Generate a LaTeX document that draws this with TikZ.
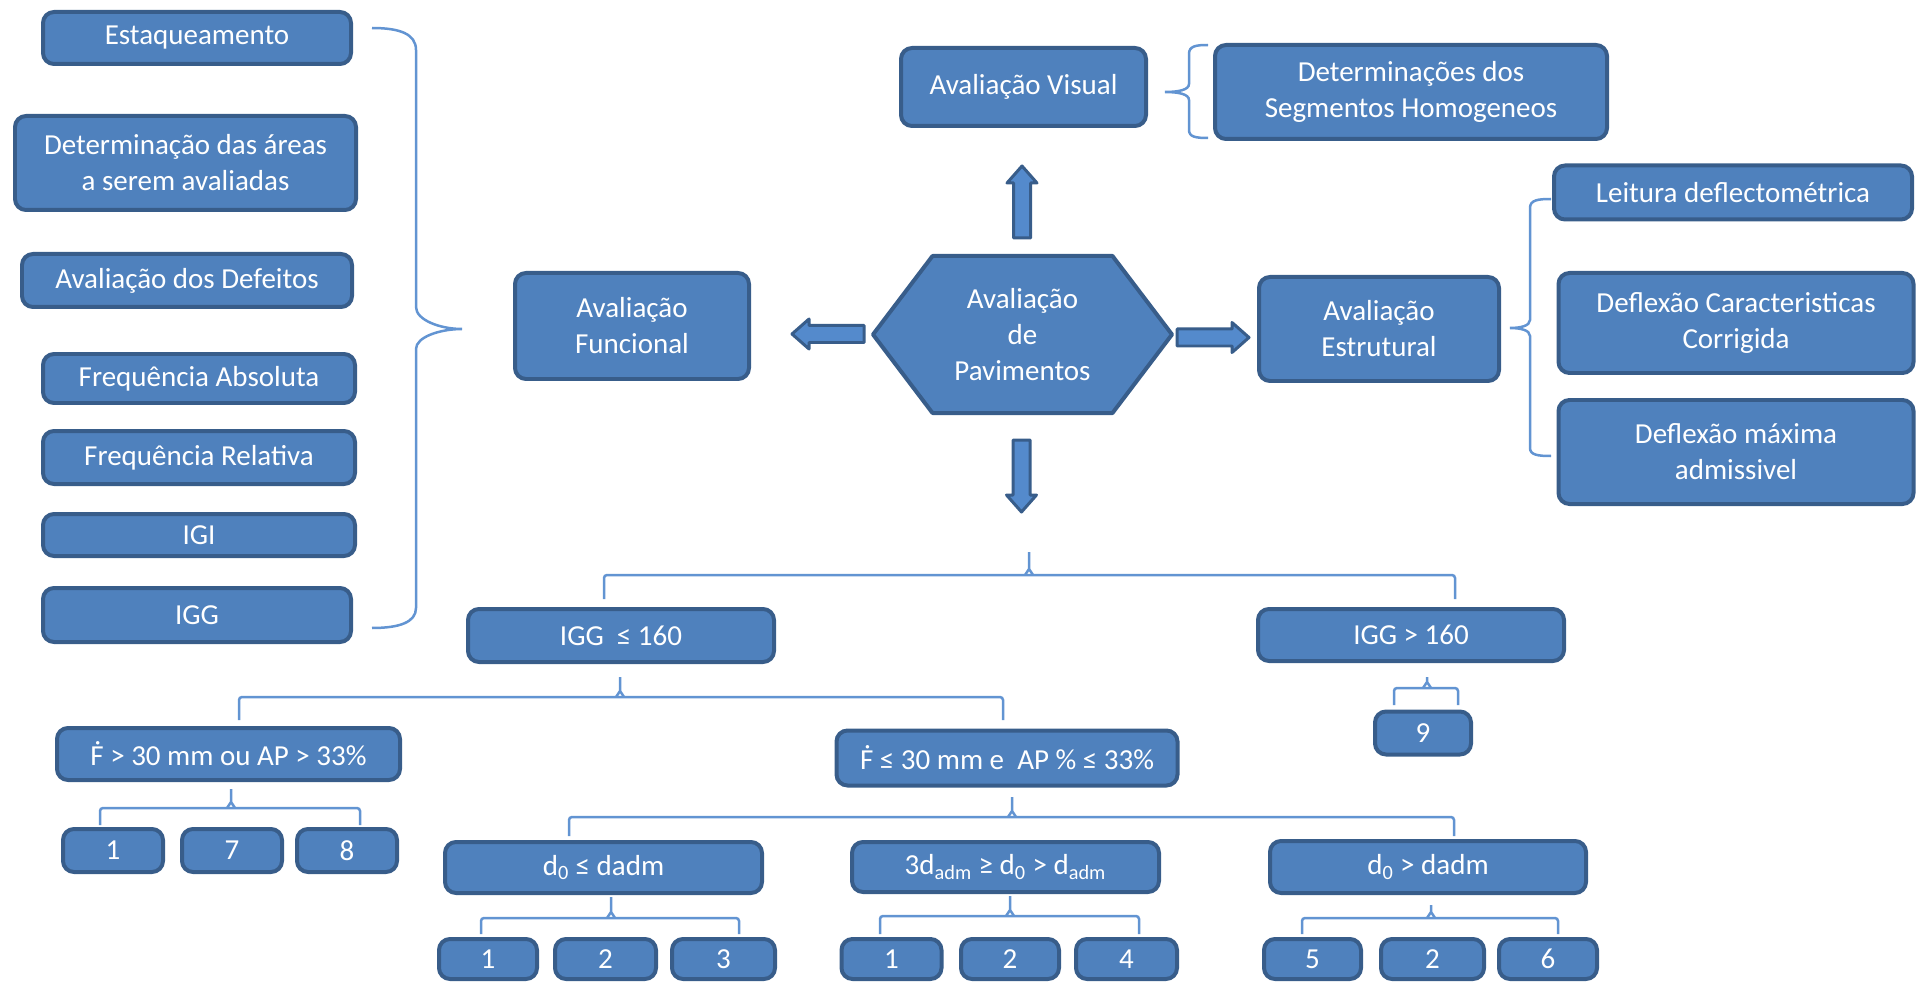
\documentclass[tikz,border=0pt]{standalone}
\usepackage{fontspec}
\setmainfont{Carlito}
\usetikzlibrary{calc, backgrounds}

\definecolor{boxfill}{RGB}{79,129,189}
\definecolor{boxborder}{RGB}{56,93,138}
\definecolor{arrowfill}{RGB}{84,138,204}
\definecolor{bracketblue}{RGB}{98,148,210}

% block arrow: tail x, tail y, direction
\newcommand{\blockarrow}[3]{%
  \draw[arrowbody, shift={(#1,#2)}, rotate=#3]
    (0,-8.5) -- (55,-8.5) -- (55,-15) -- (72,0) -- (55,15) -- (55,8.5) -- (0,8.5) -- cycle;}
% fork: left x, right x, bar y, drop y, tip x, tip y
\newcommand{\fork}[6]{%
  \draw[bracket, rounded corners=0.06cm] (#1,#4) -- (#1,#3) -- (#2,#3) -- (#2,#4);
  \draw[bracket] (#5-4,#3) -- (#5,#3-6) -- (#5,#6) (#5,#3-6) -- (#5+4,#3);}

\begin{document}
\begin{tikzpicture}
  [
    x = 0.02cm, y = -0.02cm,
    box/.style = {draw = boxborder, fill = boxfill, line width = 0.08cm,
                  rounded corners = 0.22cm, text = white, inner sep = 0pt,
                  align = center, font = \fontsize{16.5}{20.5}\selectfont},
    wh/.style 2 args = {minimum width = #1*0.02cm, minimum height = #2*0.02cm},
    hexline/.style = {draw = boxborder, fill = boxfill, line width = 0.08cm, line join = round},
    hexlabel/.style = {text = white, align = center, font = \fontsize{16.5}{20.5}\selectfont},
    bracket/.style = {draw = bracketblue, line width = 0.05cm},
    arrowbody/.style = {draw = boxborder, fill = arrowfill, line width = 0.06cm, line join = round}
  ]
  \useasboundingbox (0,0) rectangle (1928,983);

  % centre
  \node [hexlabel] (pav) at (1022.5,334.5) {Avaliação\\de\\Pavimentos};
  \begin{scope}[on background layer]
    \draw [hexline] (pav.center) ++(-149.5,0) -- ++(59.5,-78.5) -- ++(180,0)
      -- ++(59.5,78.5) -- ++(-59.5,78.5) -- ++(-180,0) -- cycle;
  \end{scope}
  \blockarrow{864}{334}{180}
  \blockarrow{1177}{337.5}{0}
  \blockarrow{1022}{238}{90}
  \blockarrow{1021.5}{440}{-90}

  % functional evaluation
  \node [box, wh={234}{106}] (funcional) at (632,326) {Avaliação\\Funcional};
  \node [box, wh={308}{52}]  (estaq)     at (197,38)    {Estaqueamento};
  \node [box, wh={341}{94}]  (areas)     at (185.5,163) {Determinação das áreas\\a serem avaliadas};
  \node [box, wh={330}{53}]  (defeitos)  at (187,280.5) {Avaliação dos Defeitos};
  \node [box, wh={312}{49}]  (fabs)      at (199,378.5) {Frequência Absoluta};
  \node [box, wh={312}{53}]  (frel)      at (199,457.5) {Frequência Relativa};
  \node [box, wh={312}{42}]  (igi)       at (199,535)   {IGI};
  \node [box, wh={308}{54}]  (igg)       at (197,615)   {IGG};
  \draw [bracket] (372,28) .. controls (400,28) and (416,34) .. (416,50) -- (416,307)
    .. controls (416,320) and (440,329) .. (462,329)
    .. controls (440,329) and (416,337) .. (416,349) -- (416,608)
    .. controls (416,622) and (400,628) .. (372,628);

  % visual evaluation
  \node [box, wh={245}{78}] (visual) at (1023.5,87) {Avaliação Visual};
  \node [box, wh={392}{94}] (segm)   at (1411,92)   {Determinações dos\\Segmentos Homogeneos};
  \draw [bracket] (1208,45) .. controls (1196,45) and (1189,46) .. (1189,54) -- (1189,84)
    .. controls (1189,90) and (1178,92) .. (1165,92)
    .. controls (1178,92) and (1189,94) .. (1189,100) -- (1189,130)
    .. controls (1189,137) and (1196,138) .. (1208,138);

  % structural evaluation
  \node [box, wh={240}{104}] (estrutural) at (1379,329)   {Avaliação\\Estrutural};
  \node [box, wh={358}{54}]  (leitura)    at (1733,192.5) {Leitura deflectométrica};
  \node [box, wh={355}{100}] (defcar)     at (1736,323)   {Deflexão Caracteristicas\\Corrigida};
  \node [box, wh={355}{104}] (defmax)     at (1736,452)   {Deflexão máxima\\admissivel};
  \draw [bracket] (1551,199) .. controls (1538,199) and (1530,200) .. (1530,208) -- (1530,320)
    .. controls (1530,326) and (1520,328) .. (1510,328)
    .. controls (1520,328) and (1530,330) .. (1530,336) -- (1530,448)
    .. controls (1530,455) and (1538,456) .. (1551,456);

  % decision tree
  \node [box, wh={306}{53}] (igga)   at (621,635.5)  {IGG \ ≤ 160};
  \node [box, wh={306}{52}] (iggb)   at (1411,635)   {IGG > 160};
  \node [box, wh={96}{43}]  (nove)   at (1423,733)   {9};
  \node [box, wh={343}{52}] (fmaior) at (228.5,754)  {Ḟ > 30 mm ou AP > 33\%};
  \node [box, wh={341}{55}] (fmenor) at (1007,758)   {Ḟ ≤ 30 mm e \ AP \% ≤ 33\%};
  \node [box, wh={100}{43}] (fa1)    at (113,850.5)  {1};
  \node [box, wh={100}{43}] (fa7)    at (232,850.5)  {7};
  \node [box, wh={100}{43}] (fa8)    at (347,850.5)  {8};
  \node [box, wh={317}{51}] (dmenor) at (603.5,867.5)
    {d\textsubscript{0} ≤ dadm};
  \node [box, wh={307}{50}] (dmeio)  at (1005.5,867)
    {3d\textsubscript{adm} ≥ d\textsubscript{0} > d\textsubscript{adm}};
  \node [box, wh={316}{52}] (dmaior) at (1428,867)
    {d\textsubscript{0} > dadm};
  \node [box, wh={98}{40}]  (db1)    at (488,959)    {1};
  \node [box, wh={101}{40}] (db2)    at (605.5,959)  {2};
  \node [box, wh={103}{40}] (db3)    at (723.5,959)  {3};
  \node [box, wh={100}{40}] (dc1)    at (891.5,959)  {1};
  \node [box, wh={98}{40}]  (dc2)    at (1010,959)   {2};
  \node [box, wh={101}{40}] (dc4)    at (1126.5,959) {4};
  \node [box, wh={97}{40}]  (dd5)    at (1312.5,959) {5};
  \node [box, wh={103}{40}] (dd2)    at (1432.5,959) {2};
  \node [box, wh={98}{40}]  (dd6)    at (1548,959)   {6};

  \fork{604}{1455}{575}{599}{1029}{552}
  \fork{239}{1003}{697}{720}{620}{677}
  \fork{1394}{1458}{688}{705}{1427}{677}
  \fork{100}{360}{808}{825}{231}{789}
  \fork{569}{1454}{817}{836}{1012}{797}
  \fork{481}{739}{918}{934}{611}{897}
  \fork{880}{1139}{916}{934}{1010}{896}
  \fork{1302}{1558}{918}{934}{1431}{905}
\end{tikzpicture}
\end{document}
